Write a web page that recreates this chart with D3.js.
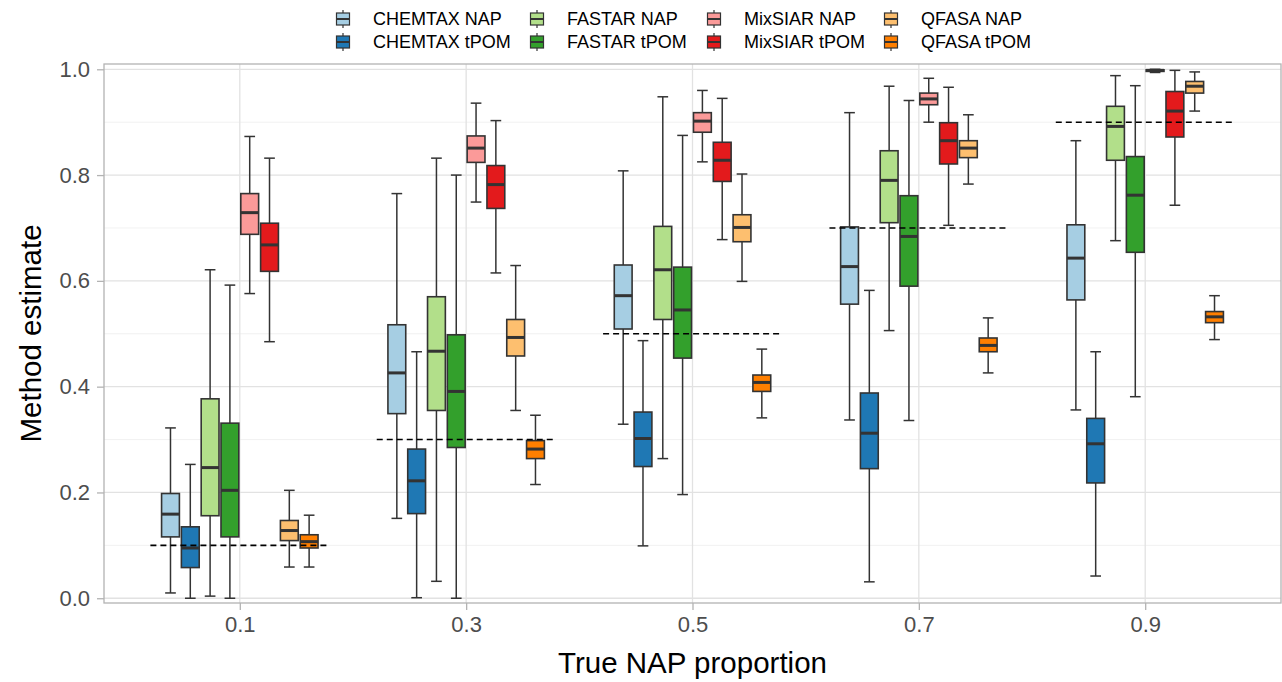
<!DOCTYPE html>
<html>
<head>
<meta charset="utf-8">
<script src="https://cdn.jsdelivr.net/npm/d3@7/dist/d3.min.js"></script>
<style>
  body { margin: 0; background: #fff; }
  svg { display: block; font-family: "Liberation Sans", Arial, sans-serif; }
</style>
</head>
<body>
<div id="chart"></div>
<script>
// Boxplots of method estimates vs true NAP proportion, 8 method/source series dodged per group.

const props = [0.1, 0.3, 0.5, 0.7, 0.9];
const seriesNames = [
  "CHEMTAX NAP", "CHEMTAX tPOM", "FASTAR NAP", "FASTAR tPOM",
  "MixSIAR NAP", "MixSIAR tPOM", "QFASA NAP", "QFASA tPOM"
];
const seriesColors = [
  "#A6CEE3", "#1F78B4", "#B2DF8A", "#33A02C",
  "#FB9A99", "#E31A1C", "#FDBF6F", "#FF7F00"
];
const yTicks = [0, 0.2, 0.4, 0.6, 0.8, 1.0];
const yMinor = [0.1, 0.3, 0.5, 0.7, 0.9];

// [lower whisker, q1, median, q3, upper whisker] for each true proportion
const chemtaxNAP = [
  [0.010, 0.116, 0.159, 0.198, 0.322],
  [0.151, 0.349, 0.426, 0.517, 0.765],
  [0.329, 0.509, 0.572, 0.630, 0.808],
  [0.337, 0.556, 0.627, 0.702, 0.918],
  [0.356, 0.564, 0.643, 0.706, 0.865]
];
const chemtaxTPOM = [
  [0.000, 0.058, 0.095, 0.135, 0.253],
  [0.001, 0.160, 0.222, 0.282, 0.466],
  [0.099, 0.249, 0.302, 0.352, 0.487],
  [0.031, 0.245, 0.312, 0.388, 0.582],
  [0.042, 0.218, 0.292, 0.340, 0.466]
];
const fastarNAP = [
  [0.004, 0.156, 0.247, 0.377, 0.621],
  [0.032, 0.355, 0.467, 0.570, 0.832],
  [0.264, 0.527, 0.621, 0.703, 0.948],
  [0.506, 0.710, 0.790, 0.846, 0.968],
  [0.676, 0.828, 0.892, 0.930, 0.988]
];
const fastarTPOM = [
  [0.000, 0.116, 0.204, 0.331, 0.592],
  [0.000, 0.285, 0.391, 0.498, 0.800],
  [0.196, 0.454, 0.545, 0.626, 0.875],
  [0.336, 0.590, 0.684, 0.761, 0.941],
  [0.381, 0.654, 0.762, 0.835, 0.969]
];
const mixsiarNAP = [
  [0.576, 0.688, 0.729, 0.765, 0.873],
  [0.749, 0.824, 0.851, 0.874, 0.936],
  [0.825, 0.881, 0.902, 0.918, 0.960],
  [0.900, 0.933, 0.944, 0.955, 0.983],
  [0.994, 0.996, 0.998, 0.999, 1.000]
];
const mixsiarTPOM = [
  [0.485, 0.618, 0.668, 0.709, 0.832],
  [0.615, 0.737, 0.782, 0.818, 0.903],
  [0.678, 0.788, 0.828, 0.862, 0.945],
  [0.705, 0.821, 0.865, 0.899, 0.966],
  [0.743, 0.872, 0.921, 0.958, 0.998]
];
const qfasaNAP = [
  [0.059, 0.109, 0.128, 0.147, 0.204],
  [0.355, 0.458, 0.493, 0.527, 0.629],
  [0.599, 0.674, 0.701, 0.725, 0.802],
  [0.783, 0.833, 0.851, 0.865, 0.914],
  [0.921, 0.955, 0.968, 0.977, 0.995]
];
const qfasaTPOM = [
  [0.059, 0.095, 0.107, 0.120, 0.157],
  [0.215, 0.264, 0.282, 0.298, 0.346],
  [0.341, 0.391, 0.408, 0.422, 0.471],
  [0.426, 0.466, 0.478, 0.492, 0.530],
  [0.489, 0.521, 0.532, 0.542, 0.572]
];
const summaries = [chemtaxNAP, chemtaxTPOM, fastarNAP, fastarTPOM,
                   mixsiarNAP, mixsiarTPOM, qfasaNAP, qfasaTPOM];

const width = 1282, height = 682;
const margin = { top: 64, right: 1, bottom: 79, left: 104 };
const dodge = 0.14;      // total dodge width in x units
const refHalf = 0.079;   // half-length of the dashed true-value line

const svg = d3.select("#chart").append("svg")
  .attr("width", width).attr("height", height);

const x = d3.scaleLinear().domain([-0.02, 1.02]).range([margin.left, width - margin.right]);
const y = d3.scaleLinear().domain([-0.009, 1.01]).range([height - margin.bottom, margin.top]);

// grid
const gGrid = svg.append("g");
gGrid.selectAll("line.minor").data(yMinor).join("line").attr("class", "minor")
  .attr("x1", margin.left).attr("x2", width - margin.right)
  .attr("y1", d => y(d)).attr("y2", d => y(d))
  .attr("stroke", "#EDEDED").attr("stroke-width", 0.8);
gGrid.selectAll("line.majory").data(yTicks).join("line").attr("class", "majory")
  .attr("x1", margin.left).attr("x2", width - margin.right)
  .attr("y1", d => y(d)).attr("y2", d => y(d))
  .attr("stroke", "#E2E2E2").attr("stroke-width", 1.3);
gGrid.selectAll("line.majorx").data(props).join("line").attr("class", "majorx")
  .attr("x1", d => x(d)).attr("x2", d => x(d))
  .attr("y1", margin.top).attr("y2", height - margin.bottom)
  .attr("stroke", "#E2E2E2").attr("stroke-width", 1.3);

// boxes
const rows = [];
props.forEach((p, gi) => {
  seriesNames.forEach((s, si) => {
    const [lo, q1, med, q3, hi] = summaries[si][gi];
    rows.push({ p, s, si, lo, q1, med, q3, hi });
  });
});

function band(p) {
  return d3.scaleBand().domain(seriesNames)
    .range([x(p - dodge / 2), x(p + dodge / 2)])
    .paddingInner(0.1).paddingOuter(0.05);
}

const stroke = "#333333";
const gBox = svg.append("g");
const boxes = gBox.selectAll("g.box").data(rows).join("g").attr("class", "box");
boxes.each(function (d) {
  const b = band(d.p);
  const bw = b.bandwidth();
  const x0 = b(d.s), xc = x0 + bw / 2, cap = bw * 0.3;
  const g = d3.select(this);
  g.append("line").attr("x1", xc).attr("x2", xc).attr("y1", y(d.hi)).attr("y2", y(d.lo))
    .attr("stroke", stroke).attr("stroke-width", 1.5);
  g.append("line").attr("x1", xc - cap).attr("x2", xc + cap).attr("y1", y(d.hi)).attr("y2", y(d.hi))
    .attr("stroke", stroke).attr("stroke-width", 1.5);
  g.append("line").attr("x1", xc - cap).attr("x2", xc + cap).attr("y1", y(d.lo)).attr("y2", y(d.lo))
    .attr("stroke", stroke).attr("stroke-width", 1.5);
  g.append("rect").attr("x", x0).attr("width", bw)
    .attr("y", y(d.q3)).attr("height", Math.max(0, y(d.q1) - y(d.q3)))
    .attr("fill", seriesColors[d.si]).attr("stroke", stroke).attr("stroke-width", 1.6);
  g.append("line").attr("x1", x0).attr("x2", x0 + bw).attr("y1", y(d.med)).attr("y2", y(d.med))
    .attr("stroke", stroke).attr("stroke-width", 3);
});

// dashed true-value lines
svg.append("g").selectAll("line").data(props).join("line")
  .attr("x1", d => x(d - refHalf)).attr("x2", d => x(d + refHalf))
  .attr("y1", d => y(d)).attr("y2", d => y(d))
  .attr("stroke", "#000").attr("stroke-width", 1.6).attr("stroke-dasharray", "6,4");

// panel border
svg.append("rect")
  .attr("x", margin.left).attr("y", margin.top)
  .attr("width", width - margin.left - margin.right)
  .attr("height", height - margin.top - margin.bottom)
  .attr("fill", "none").attr("stroke", "#B3B3B3").attr("stroke-width", 1.3);

// axes
const gY = svg.append("g").attr("transform", `translate(${margin.left},0)`)
  .call(d3.axisLeft(y).tickValues(yTicks).tickFormat(d3.format(".1f")).tickSize(7).tickPadding(7));
const gX = svg.append("g").attr("transform", `translate(0,${height - margin.bottom})`)
  .call(d3.axisBottom(x).tickValues(props).tickFormat(d3.format(".1f")).tickSize(7).tickPadding(6));
[gX, gY].forEach(g => {
  g.select(".domain").remove();
  g.selectAll(".tick line").attr("stroke", "#B3B3B3").attr("stroke-width", 1.3);
  g.selectAll(".tick text").attr("fill", "#4D4D4D").attr("font-size", 22)
    .attr("font-family", "'Liberation Sans', Arial, sans-serif");
});

svg.append("text")
  .attr("x", (margin.left + width - margin.right) / 2).attr("y", 673)
  .attr("text-anchor", "middle").attr("font-size", 29.5).attr("fill", "#000")
  .text("True NAP proportion");
svg.append("text")
  .attr("transform", `translate(41,${(margin.top + height - margin.bottom) / 2}) rotate(-90)`)
  .attr("text-anchor", "middle").attr("font-size", 29.5).attr("fill", "#000")
  .text("Method estimate");

// legend: 2 rows, filled column by column
const legendCols = [373, 567, 744, 921];
const legendRows = [19, 42];
const gLeg = svg.append("g");
seriesNames.forEach((s, i) => {
  const col = Math.floor(i / 2), row = i % 2;
  const tx = legendCols[col], cy = legendRows[row];
  const kx = tx - 30;
  const g = gLeg.append("g");
  g.append("line").attr("x1", kx).attr("x2", kx).attr("y1", cy - 9).attr("y2", cy + 9)
    .attr("stroke", stroke).attr("stroke-width", 1.2);
  g.append("rect").attr("x", kx - 6.5).attr("y", cy - 6).attr("width", 13).attr("height", 12)
    .attr("fill", seriesColors[i]).attr("stroke", stroke).attr("stroke-width", 1.2);
  g.append("line").attr("x1", kx - 6.5).attr("x2", kx + 6.5).attr("y1", cy).attr("y2", cy)
    .attr("stroke", stroke).attr("stroke-width", 2);
  g.append("text").attr("x", tx).attr("y", cy).attr("dy", "0.35em")
    .attr("font-size", 18).attr("fill", "#000").text(s);
});
</script>
</body>
</html>
